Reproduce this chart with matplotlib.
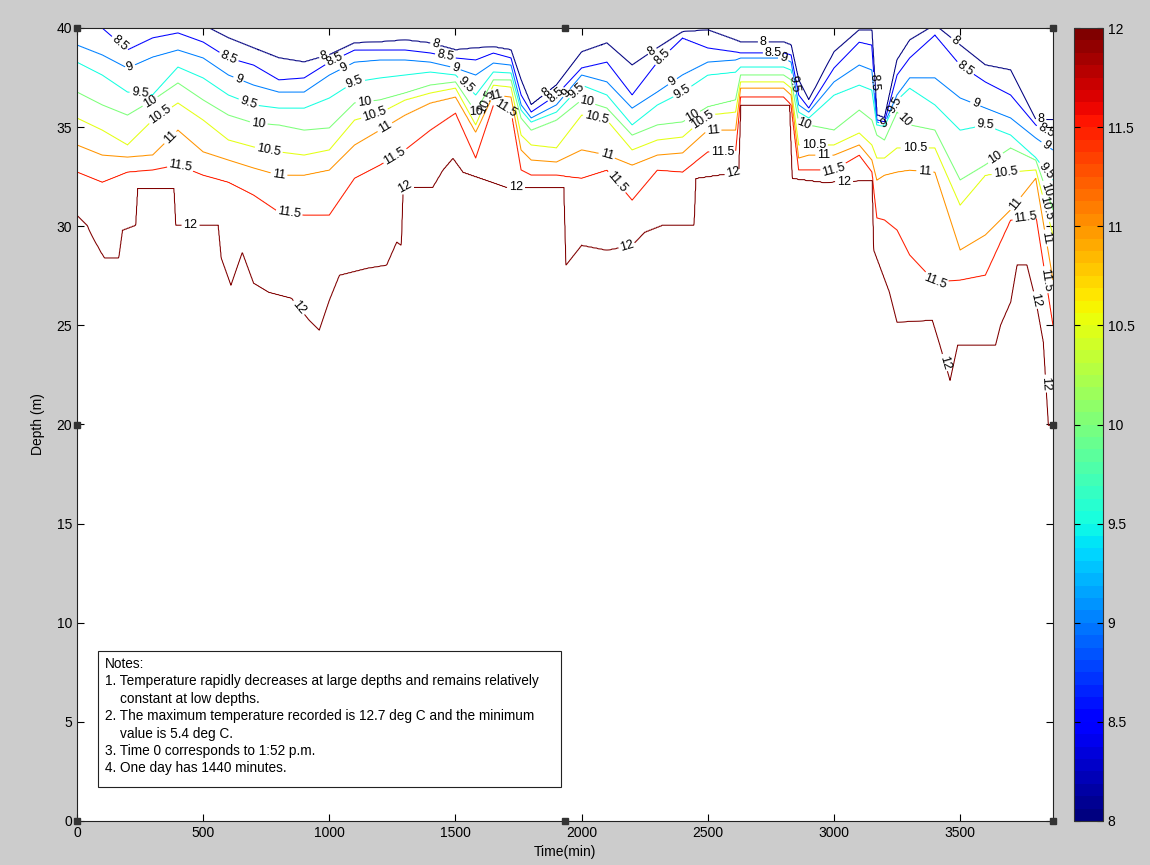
import numpy as np
import matplotlib
matplotlib.use('Agg')
import matplotlib.pyplot as plt
from matplotlib.colors import Normalize
from matplotlib.cm import ScalarMappable
from matplotlib.patches import Rectangle

plt.rcParams['font.family'] = ['Liberation Sans', 'DejaVu Sans']

# ---------------- data ----------------
levels = [8.0, 8.5, 9.0, 9.5, 10.0, 10.5, 11.0, 11.5, 12.0]

time_min = [0, 100, 200, 300, 400, 500, 600, 700, 800, 900,
            1000, 1100, 1200, 1300, 1400, 1500, 1580, 1650, 1720, 1760,
            1800, 1900, 2000, 2100, 2200, 2300, 2400, 2500, 2610, 2630,
            2700, 2800, 2830, 2860, 2900, 3000, 3100, 3150, 3170, 3200,
            3250, 3300, 3400, 3500, 3600, 3700, 3800, 3868]

depth_8 = [40.91, 40.91, 40.91, 40.91, 40.91, 40.15, 39.50, 38.99, 38.49, 38.28,
           38.64, 39.24, 39.29, 39.39, 39.24, 38.89, 38.99, 39.04, 38.89, 37.38,
           36.12, 37.12, 38.79, 39.24, 38.13, 38.99, 39.80, 39.90, 39.39, 39.29,
           39.29, 39.29, 39.14, 37.38, 36.37, 38.79, 39.90, 39.90, 35.61, 35.46,
           38.39, 39.39, 40.15, 39.14, 38.13, 37.88, 35.36, 35.36]
depth_8_5 = [40.40, 40.00, 38.89, 39.50, 39.75, 39.29, 38.49, 38.13, 37.38, 37.48,
             38.28, 38.89, 38.89, 38.89, 38.74, 38.49, 38.39, 38.74, 38.49, 36.62,
             35.76, 36.62, 37.98, 38.28, 36.62, 38.28, 39.50, 38.99, 38.79, 38.74,
             38.74, 38.74, 38.64, 36.62, 35.96, 37.98, 39.29, 39.14, 35.36, 35.26,
             37.63, 38.49, 39.65, 38.13, 37.28, 36.62, 35.11, 34.60]
depth_9 = [39.14, 38.64, 37.98, 38.54, 38.89, 38.49, 37.63, 37.12, 36.77, 36.77,
           37.63, 38.28, 38.39, 38.39, 38.28, 37.98, 37.63, 38.23, 38.13, 36.12,
           35.46, 36.12, 37.63, 37.28, 35.96, 36.77, 37.63, 38.28, 38.39, 38.49,
           38.49, 38.49, 38.28, 36.12, 35.76, 37.28, 38.13, 37.88, 35.26, 35.16,
           36.62, 37.48, 37.48, 36.47, 35.96, 35.46, 34.45, 33.85]
depth_9_5 = [38.28, 37.63, 36.77, 36.62, 38.03, 37.48, 36.62, 36.12, 35.96, 35.96,
             36.47, 37.28, 37.48, 37.63, 37.78, 37.63, 36.62, 37.78, 37.73, 35.86,
             35.26, 35.76, 37.12, 36.62, 35.11, 36.12, 36.77, 37.63, 37.78, 38.03,
             38.03, 38.03, 37.88, 35.76, 35.46, 36.62, 37.12, 36.87, 35.11, 35.06,
             36.37, 36.97, 36.12, 34.85, 35.11, 34.60, 33.44, 32.33]
depth_10 = [36.77, 36.12, 35.61, 36.37, 37.23, 36.37, 35.61, 35.21, 35.11, 34.85,
            34.96, 36.22, 36.37, 36.72, 37.12, 37.28, 35.76, 37.38, 37.38, 35.46,
            34.85, 35.36, 36.37, 35.96, 34.60, 35.11, 35.26, 36.02, 36.37, 37.63,
            37.63, 37.63, 37.38, 35.26, 35.11, 34.85, 35.86, 35.36, 34.60, 34.35,
            35.76, 35.11, 34.85, 32.33, 33.09, 33.95, 33.34, 30.82]
depth_10_5 = [35.46, 34.85, 34.10, 35.36, 36.22, 35.36, 34.35, 34.00, 33.75, 33.59,
              33.85, 35.36, 35.71, 36.37, 36.72, 36.97, 35.11, 37.12, 37.02, 34.60,
              34.10, 33.95, 35.61, 35.36, 33.85, 34.35, 34.50, 35.61, 35.76, 37.28,
              37.28, 37.28, 36.97, 34.10, 34.10, 34.10, 34.70, 34.10, 33.44, 33.44,
              33.95, 33.95, 33.95, 31.07, 32.58, 32.74, 32.84, 29.56]
depth_11 = [34.10, 33.59, 33.49, 33.59, 34.85, 33.75, 33.34, 32.94, 32.58, 32.58,
            32.84, 34.10, 34.85, 35.61, 36.22, 36.52, 34.75, 36.62, 36.52, 33.85,
            33.34, 33.24, 33.85, 33.59, 33.09, 33.59, 33.70, 34.85, 34.85, 36.97,
            36.97, 36.97, 36.62, 33.44, 33.59, 33.59, 34.10, 33.34, 32.33, 32.58,
            32.74, 32.84, 32.74, 28.80, 29.56, 30.82, 32.43, 27.29]
depth_11_5 = [32.74, 32.23, 32.74, 32.84, 33.09, 32.58, 32.23, 31.58, 30.72, 30.57,
              30.57, 32.43, 33.09, 33.85, 34.85, 35.71, 33.44, 36.12, 35.86, 32.84,
              32.58, 32.58, 32.43, 32.84, 31.32, 32.84, 32.74, 33.75, 33.75, 36.52,
              36.52, 36.52, 36.12, 32.84, 32.84, 32.84, 33.59, 32.74, 30.42, 30.32,
              29.81, 28.55, 27.19, 27.29, 27.54, 30.32, 30.57, 25.02]

time_12 = [0, 40, 60, 95, 110, 165, 180, 232, 240, 385, 392, 560, 572, 610, 655,
           700, 760, 850, 920, 960, 1000, 1040, 1150, 1227, 1267, 1285, 1292, 1410,
           1450, 1490, 1530, 1600, 1700, 1930, 1938, 2000, 2100, 2200, 2250, 2320,
           2445, 2452, 2622, 2630, 2825, 2835, 2960, 3152, 3158, 3180, 3220, 3250,
           3390, 3420, 3460, 3490, 3640, 3660, 3700, 3725, 3765, 3800, 3830, 3850, 3868]
depth_12 = [30.57, 30.06, 29.51, 28.70, 28.40, 28.40, 29.81, 30.06, 31.93, 31.93,
            30.06, 30.06, 28.40, 27.04, 28.70, 27.14, 26.68, 26.38, 25.27, 24.77,
            26.28, 27.54, 27.89, 28.05, 29.21, 29.05, 31.98, 31.98, 32.84, 33.44,
            32.74, 32.43, 31.98, 31.98, 28.05, 29.05, 28.80, 29.05, 29.71, 30.06,
            30.06, 32.43, 32.74, 36.12, 36.12, 32.43, 32.23, 32.33, 28.80, 28.05,
            26.68, 25.17, 25.27, 24.01, 22.24, 24.01, 24.01, 25.02, 26.18, 28.05,
            28.05, 26.28, 24.16, 19.97, 19.97]

t_min_record = 5.4
t_max_record = 12.7

notes_lines = [
    "Notes:",
    "1. Temperature rapidly decreases at large depths and remains relatively",
    "    constant at low depths.",
    "2. The maximum temperature recorded is 12.7 deg C and the minimum",
    "    value is 5.4 deg C.",
    "3. Time 0 corresponds to 1:52 p.m.",
    "4. One day has 1440 minutes.",
]

# ---------------- temperature field built from the isolines ----------------
t_fine = np.arange(0, 3868.1, 2.0)
z_fine = np.arange(0, 40.001, 0.05)
iso = [depth_8, depth_8_5, depth_9, depth_9_5, depth_10, depth_10_5, depth_11, depth_11_5]
curves = [np.interp(t_fine, time_min, d) for d in iso]
curves.append(np.interp(t_fine, time_12, depth_12))
curves = np.array(curves)
for i in range(1, len(curves)):
    curves[i] = np.minimum(curves[i], curves[i - 1] - 0.02)

temps_asc = [t_max_record] + levels[::-1] + [t_min_record]
T = np.empty((len(z_fine), len(t_fine)))
for j in range(len(t_fine)):
    xp = np.concatenate(([-1.0], curves[::-1, j], [60.0]))
    T[:, j] = np.interp(z_fine, xp, temps_asc)

# ---------------- figure ----------------
W, H = 1150, 865
fig = plt.figure(figsize=(W / 100, H / 100), dpi=100, facecolor='#cccccc')
ax = fig.add_axes([77 / W, 44 / H, 976 / W, 793 / H])
cax = fig.add_axes([1074 / W, 44 / H, 29 / W, 793 / H])

jet64 = plt.get_cmap('jet', 64)
norm = Normalize(vmin=8, vmax=12)
cs = ax.contour(t_fine, z_fine, T, levels=levels, cmap='jet', norm=norm, linewidths=0.75)

# label positions taken from the isoline data
label_pos = []
base_times = [130, 560, 980, 1420, 1860, 2280, 2720, 3120, 3480, 3820]
for i, lev in enumerate(levels):
    for bt in base_times:
        tl = min(bt + 40 * i, 3840)
        if i < 8:
            d = float(np.interp(tl, time_min, iso[i]))
        else:
            d = float(np.interp(tl, time_12, depth_12))
        if 0.5 < d < 39.6:
            label_pos.append((tl, d))
ax.clabel(cs, levels, inline=True, fmt='%g', fontsize=9, colors='k',
          manual=label_pos, inline_spacing=2)

ax.set_xlim(0, 3868)
ax.set_ylim(0, 40)
ax.set_xticks(np.arange(0, 3501, 500))
ax.set_yticks(np.arange(0, 41, 5))
ax.tick_params(direction='in', top=True, right=True, length=5, labelsize=10, width=0.8)
for s in ax.spines.values():
    s.set_color('#222222')
    s.set_linewidth(0.8)
ax.set_xlabel('Time(min)', fontsize=10, labelpad=4)
ax.set_ylabel('Depth (m)', fontsize=10, labelpad=8)

# notes box
ax.add_patch(Rectangle((21 / 976, 34 / 793), 463 / 976, 136 / 793, transform=ax.transAxes,
                       facecolor='white', edgecolor='#222222', linewidth=0.8, zorder=5))
ax.text(28 / 976, 164 / 793, "\n".join(notes_lines), transform=ax.transAxes,
        ha='left', va='top', fontsize=9.8, linespacing=1.31, zorder=6)

# selection handles (as in the reference screenshot)
hx = [0, 0.5, 1, 0, 1, 0, 0.5, 1]
hy = [1, 1, 1, 0.5, 0.5, 0, 0, 0]
ax.plot(hx, hy, 's', color='#333333', ms=4, transform=ax.transAxes, clip_on=False, zorder=10)

# colorbar
sm = ScalarMappable(norm=norm, cmap=jet64)
cb = fig.colorbar(sm, cax=cax, ticks=levels)
cb.ax.set_yticklabels(['%g' % v for v in levels])
cb.ax.tick_params(direction='in', left=True, right=True, length=4, labelsize=10, width=0.8)
cb.outline.set_edgecolor('#333333')
cb.outline.set_linewidth(0.8)

fig.savefig('out.png', dpi=100, facecolor=fig.get_facecolor())
